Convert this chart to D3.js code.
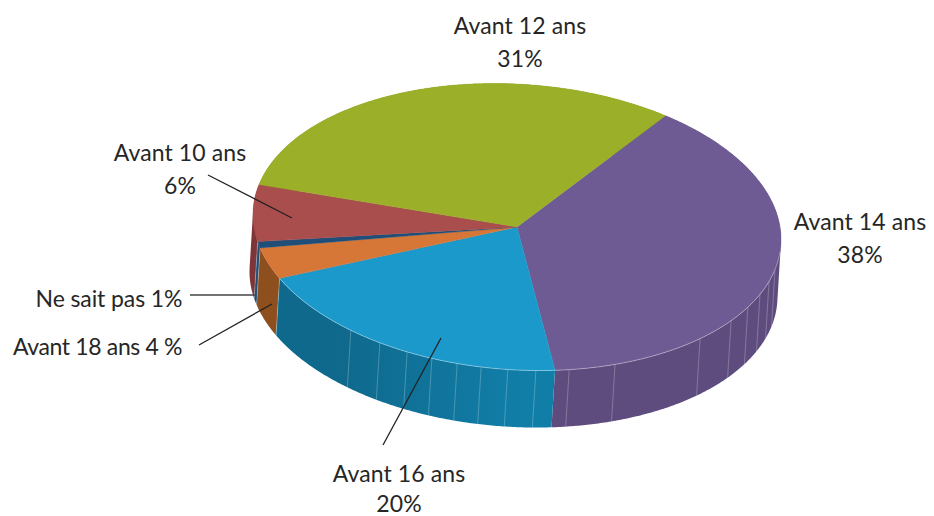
<!DOCTYPE html>
<html><head><meta charset="utf-8">
<script src="https://cdn.jsdelivr.net/npm/d3@7/dist/d3.min.js"></script>
<style>html,body{margin:0;background:#fff}svg{display:block}text{font-family:Lato,sans-serif;font-size:23px;letter-spacing:.1px;fill:#262626;font-weight:400}</style>
</head><body><svg id="c" width="934" height="516"></svg>
<script>
const categories=["Avant 14 ans","Avant 16 ans","Avant 18 ans","Ne sait pas","Avant 10 ans","Avant 12 ans"];
const printedPercents=[38,20,4,1,6,31];
const drawnShares=[38.2,20.1,3.5,0.7,6.4,31.1];
const topColors=["#6f5b93","#1b99cb","#d67637","#1f4e79","#a94e4c","#9bb028"];
const wallColors=["#5e4c7e","url(#blueWall)","#8e4f1e","#1f4e79","#7e3538","#7c8d20"];
const purpleSeams=[168.6,158.2,136.1,125.8,119,113,107.3,102.2];
const blueSeams=[175.9,182,187.8,193.1,198.8,204.6,211.3,219];

const cx=517,cy=227,rx=264,ry=143,tilt=12.4,ddx=-3.5,ddy=57;
const svg=d3.select("#c");
const defs=svg.append("defs");
const g=defs.append("linearGradient").attr("id","blueWall").attr("gradientUnits","userSpaceOnUse")
 .attr("x1",340).attr("x2",520).attr("y1",0).attr("y2",0);
g.append("stop").attr("offset",0).attr("stop-color","#0f698d");
g.append("stop").attr("offset",1).attr("stop-color","#117ea8");

const deg=Math.PI/180;
const pie=d3.pie().sort(null).startAngle(34.2*deg).endAngle(394.2*deg);
const arcs=pie(drawnShares);
const px=a=>cx+rx*Math.sin(a), py=a=>cy-ry*Math.cos(a)+tilt*Math.sin(a);
const line=d3.line();
const samples=(a0,a1)=>{const n=Math.max(2,Math.ceil(Math.abs(a1-a0)/(0.5*deg)));return d3.range(n+1).map(i=>a0+(a1-a0)*i/n);};

// walls, back to front: each wall is a union of small quads so that the
// silhouette stays filled where the rim turns at the left and right extremes
[5,4,3,2,0,1].forEach(i=>{
 const d=arcs[i],s=samples(d.startAngle,d.endAngle);
 let path="";
 d3.pairs(s).forEach(([a,b])=>{
  let q=[[px(a),py(a)],[px(b),py(b)],[px(b)+ddx,py(b)+ddy],[px(a)+ddx,py(a)+ddy]];
  if(d3.polygonArea(q)<0) q.reverse();
  path+=line(q)+"Z";
 });
 svg.append("path").attr("d",path).attr("fill",wallColors[i]);
});
// seams
const seam=(a,c)=>svg.append("line").attr("x1",px(a)).attr("y1",py(a)).attr("x2",px(a)+ddx).attr("y2",py(a)+ddy)
  .attr("stroke",c).attr("stroke-width",0.8);
purpleSeams.concat(blueSeams).forEach(v=>seam(v*deg,"rgba(255,255,255,.3)"));
[arcs[1].endAngle,arcs[2].endAngle,arcs[3].endAngle].forEach(a=>seam(a,"rgba(255,255,255,.35)"));
// tops
arcs.forEach((d,i)=>{
 const pts=samples(d.startAngle,d.endAngle).map(a=>[px(a),py(a)]);
 svg.append("path").attr("d",line([[cx,cy]].concat(pts))+"Z").attr("fill",topColors[i])
  .attr("stroke",topColors[i]).attr("stroke-width",0.4);
});
// light rim on the front
[0,1].forEach(i=>{
 const d=arcs[i];
 const a0=i==0?Math.max(d.startAngle,95*deg):d.startAngle;
 svg.append("path").attr("fill","none").attr("stroke","rgba(255,255,255,.45)").attr("stroke-width",0.8)
  .attr("d",line(samples(a0,d.endAngle).map(a=>[px(a),py(a)])));
});
// leader lines
[[208,175,292,218,"#222"],[190,295,256,295,"#444"],[199,345,272,304,"#222"],[441,338,383,445,"#222"]]
 .forEach(l=>svg.append("line").attr("x1",l[0]).attr("y1",l[1]).attr("x2",l[2]).attr("y2",l[3])
 .attr("stroke",l[4]).attr("stroke-width",1.3));
// labels
const text=(s,x,y,sp)=>svg.append("text").attr("x",x).attr("y",y).attr("text-anchor","middle")
 .style("letter-spacing",sp==null?null:sp+"px").text(s);
[[5,520,34],[4,180,161],[0,860,230],[1,399,482]].forEach(([i,x,y])=>{
 text(categories[i],x,y);
 text(printedPercents[i]+"%",x,y+(i==1?30:33));
});
text(categories[3]+" "+printedPercents[3]+"%",109,307,-0.1);
text(categories[2]+" "+printedPercents[2]+" %",97.5,355,-0.35);
</script></body></html>
